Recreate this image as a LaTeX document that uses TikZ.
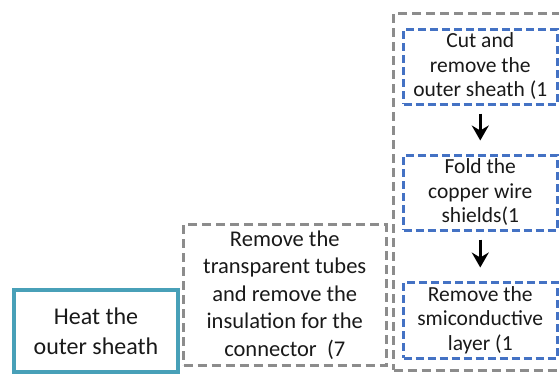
\documentclass[tikz,border=0pt]{standalone}
\usepackage{fontspec}
\setmainfont{Carlito}
\usetikzlibrary{arrows.meta}
\definecolor{stepblue}{RGB}{68,114,196}
\definecolor{framegray}{RGB}{140,140,140}
\definecolor{heatteal}{RGB}{72,160,184}
\definecolor{txt}{RGB}{25,25,25}
\tikzset{
  stepbox/.style={draw=stepblue, line width=3bp, dash pattern=on 8bp off 4bp,
    align=center, text=txt, inner sep=0pt, minimum width=153.5bp,
    minimum height=75bp, font=\fontsize{21.5bp}{24.5bp}\selectfont},
  graybox/.style={draw=framegray, line width=3bp, dash pattern=on 9bp off 5bp,
    inner sep=0pt, align=center, text=txt},
  heatbox/.style={draw=heatteal, line width=4bp, align=center, text=txt,
    inner sep=0pt, minimum width=164bp, minimum height=82bp,
    font=\fontsize{24bp}{30bp}\selectfont},
  flow/.style={-{Stealth[length=15bp,width=17bp,inset=5bp]}, line width=3.3bp, black,
    shorten <=8bp, shorten >=13bp}
}
\begin{document}
\begin{tikzpicture}[x=1bp, y=-1bp]
  \useasboundingbox (0,0) rectangle (559,375);

  % grouping frame around the three stripping steps
  \node[graybox, minimum width=171.5bp, minimum height=356.5bp] (group) at (479.25,191.75) {};

  % stripping steps
  \node[stepbox] (cut) at (480.25,66.5) {Cut and\\remove the\\outer sheath (1};
  \node[stepbox] (fold) at (480.25,192.5) {Fold the\\copper wire\\shields(1};
  \node[stepbox, minimum height=76bp] (semi) at (480.25,320) {Remove the\\smiconductive\\layer (1};

  \draw[flow] (cut.south) -- (fold.north);
  \draw[flow] (fold.south) -- (semi.north);

  % connector preparation
  \node[graybox, minimum width=202.5bp, minimum height=140.5bp,
        font=\fontsize{22.5bp}{27.5bp}\selectfont] (tubes) at (284.75,294.75)
        {Remove the\\transparent tubes\\and remove the\\insulation for the\\connector\ \ (7};

  % heating step
  \node[heatbox] (heat) at (96,331) {Heat the\\outer sheath};
\end{tikzpicture}
\end{document}
